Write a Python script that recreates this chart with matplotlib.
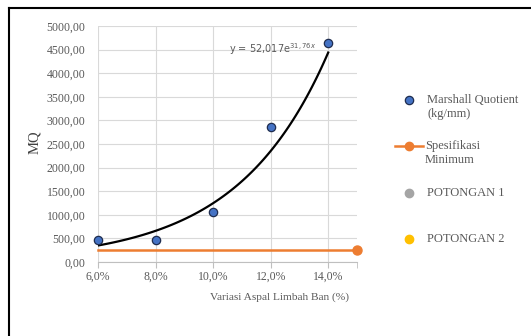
import numpy as np
import matplotlib.pyplot as plt
from matplotlib.lines import Line2D

# data
kadar = [0.06, 0.08, 0.10, 0.12, 0.14]
mq = [475, 460, 1050, 2850, 4630]
spek_x = [0.06, 0.15]
spek_y = [250, 250]
# trendline shown on chart: y = 52,017 e^(31,76x)
trend_a = 52.017
trend_b = 31.76
yticks = [0, 500, 1000, 1500, 2000, 2500, 3000, 3500, 4000, 4500, 5000]
xticks = [0.06, 0.08, 0.10, 0.12, 0.14]

serif = 'Liberation Serif'
W, H = 531, 336


def px(x, y):
    return x / W, 1 - y / H


def main():
    fig = plt.figure(figsize=(W / 100, H / 100), dpi=100)
    ax = fig.add_axes([98 / W, 1 - 262 / H, (357 - 98) / W, (262 - 26) / H])

    xt = np.linspace(0.06, 0.14, 100)
    ax.plot(xt, trend_a * np.exp(trend_b * xt), color='black', lw=1.6, zorder=3)
    ax.plot(spek_x, spek_y, color='#ED7D31', lw=1.8, marker='o', markersize=6.5,
            markevery=[1], zorder=3, clip_on=False)
    ax.scatter(kadar, mq, s=36, color='#4472C4', edgecolors='#1F2D4F', linewidths=0.9,
               zorder=4, clip_on=False)

    ax.text(0.1055, 4520, 'y = 52,017e$^{31,76x}$', color='#595959', fontsize=7,
            family='DejaVu Sans', ha='left', va='center')

    ax.set_xlim(0.06, 0.15)
    ax.set_ylim(0, 5000)
    ax.set_xticks(xticks)
    ax.set_xticklabels([('%.1f%%' % (v * 100)).replace('.', ',') for v in xticks],
                       fontsize=8.5, family=serif, color='#595959')
    ax.set_xticks([0.15], minor=True)
    ax.set_yticks(yticks)
    ax.set_yticklabels([('%.2f' % v).replace('.', ',') for v in yticks], fontsize=8.5,
                       family=serif, color='#595959')
    ax.grid(True, color='#D9D9D9', lw=0.8)
    ax.set_axisbelow(True)
    for s in ['top', 'right', 'left']:
        ax.spines[s].set_visible(False)
    ax.spines['bottom'].set_color('#BFBFBF')
    ax.tick_params(axis='y', length=0, pad=9)
    ax.tick_params(axis='x', which='both', length=4, color='#BFBFBF', pad=2)

    fig.text(*px(35, 142), 'MQ', fontsize=10.5, family=serif, color='#404040',
             rotation=90, ha='center', va='center')
    fig.text(*px(279, 297), 'Variasi Aspal Limbah Ban (%)', fontsize=8.2, family=serif,
             color='#595959', ha='center', va='center')

    # legend drawn by hand
    tr = fig.transFigure
    fig.add_artist(Line2D(*zip(px(409, 100)), marker='o', ms=6, color='#4472C4',
                          mec='#1F2D4F', mew=0.9, transform=tr))
    fig.text(*px(427, 107), 'Marshall Quotient\n(kg/mm)', fontsize=9, family=serif,
             color='#595959', va='center', linespacing=1.15)
    (x0, y0), (x1, y1) = px(395, 146), px(423, 146)
    fig.add_artist(Line2D([x0, x1], [y0, y1], color='#ED7D31', lw=1.8, transform=tr))
    fig.add_artist(Line2D(*zip(px(409, 146)), marker='o', ms=6, color='#ED7D31',
                          transform=tr))
    fig.text(*px(425, 153), 'Spesifikasi\nMinimum', fontsize=9, family=serif,
             color='#595959', va='center', linespacing=1.15)
    fig.add_artist(Line2D(*zip(px(409, 193)), marker='o', ms=6, color='#A5A5A5',
                          mec='#A5A5A5', transform=tr))
    fig.text(*px(427, 193), 'POTONGAN 1', fontsize=9, family=serif, color='#595959',
             va='center')
    fig.add_artist(Line2D(*zip(px(409, 239)), marker='o', ms=6, color='#FFC000',
                          mec='#FFC000', transform=tr))
    fig.text(*px(427, 239), 'POTONGAN 2', fontsize=9, family=serif, color='#595959',
             va='center')

    # outer frame (left and top only)
    fig.add_artist(Line2D([9 / W, 9 / W], [0, 1 - 8 / H], color='black', lw=1.5, transform=tr))
    fig.add_artist(Line2D([9 / W, 1], [1 - 8 / H, 1 - 8 / H], color='black', lw=1.5,
                          transform=tr))

    fig.savefig('out.png', dpi=100)


if __name__ == "__main__":
    main()
